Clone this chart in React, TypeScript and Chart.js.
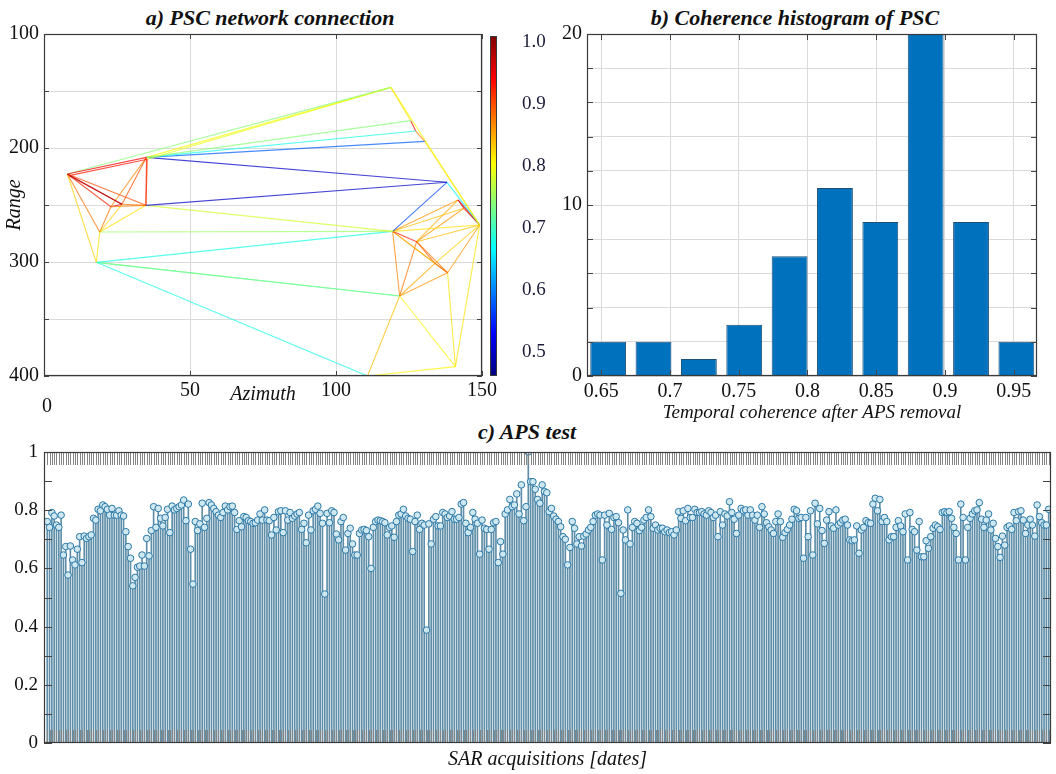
import React, { useEffect, useRef } from 'react';
import { Chart, registerables } from 'chart.js';

Chart.register(...registerables);

// ---------- Panel a: PSC network ----------
const nodeNames = ['A', 'A2', 'B', 'B2', 'C', 'D', 'E', 'F', 'G', 'H', 'I', 'I2', 'J', 'K', 'L', 'L2', 'M', 'N', 'O', 'P', 'Q', 'R', 'S', 'T'];
const nodeAzimuth = [8.0, 8.6, 35.1, 35.4, 26.7, 22.9, 34.9, 19.1, 17.9, 118.8, 125.6, 127.3, 130.4, 138.0, 141.8, 143.8, 149.2, 119.4, 127.6, 133.9, 138.2, 121.8, 140.9, 110.8];
const nodeRange = [222.8, 224.2, 208.2, 209.8, 249.4, 251.5, 250.3, 273.7, 300.3, 146.8, 176.0, 185.1, 194.2, 230.1, 245.6, 252.9, 267.5, 273.1, 282.2, 301.2, 309.4, 329.8, 391.8, 400.0];

const edgeFrom = ['A', 'A2', 'A', 'B', 'B2', 'B', 'B', 'B', 'B', 'E', 'A', 'A2', 'A', 'A', 'A', 'A', 'B', 'B', 'B', 'B2', 'C', 'D', 'D', 'C', 'D', 'E', 'F', 'E', 'F', 'G', 'G', 'G', 'H', 'H', 'I', 'I2', 'J', 'K', 'K', 'L', 'L2', 'L', 'N', 'N', 'N', 'N', 'N', 'N', 'O', 'O', 'O', 'O', 'O', 'P', 'P', 'Q', 'R', 'R', 'R', 'R', 'T', 'S', 'S', 'N', 'O', 'G'];
const edgeTo = ['B', 'B2', 'H', 'H', 'H', 'I', 'I2', 'J', 'K', 'K', 'C', 'C', 'D', 'E', 'F', 'G', 'C', 'D', 'E', 'E', 'E', 'E', 'C', 'F', 'F', 'F', 'G', 'N', 'N', 'N', 'R', 'T', 'I', 'M', 'I2', 'J', 'M', 'M', 'N', 'M', 'M', 'L2', 'L', 'L2', 'M', 'O', 'R', 'P', 'P', 'Q', 'R', 'M', 'L', 'Q', 'M', 'M', 'P', 'Q', 'S', 'T', 'S', 'M', 'Q', 'Q', 'L2', 'R'];
const edgeCoherence = [0.95, 0.93, 0.74, 0.80, 0.79, 0.74, 0.68, 0.58, 0.50, 0.50, 0.98, 0.96, 0.92, 0.90, 0.88, 0.83, 0.90, 0.87, 0.93, 0.90, 0.88, 0.87, 0.95, 0.83, 0.88, 0.82, 0.82, 0.78, 0.75, 0.68, 0.73, 0.68, 0.82, 0.80, 0.95, 0.88, 0.83, 0.66, 0.57, 0.97, 0.93, 0.95, 0.86, 0.84, 0.82, 0.93, 0.87, 0.86, 0.89, 0.88, 0.88, 0.84, 0.85, 0.90, 0.83, 0.86, 0.85, 0.86, 0.80, 0.84, 0.81, 0.82, 0.82, 0.83, 0.86, 0.72];

const azimuthTicks = [0, 50, 100, 150];
const rangeTicks = [100, 150, 200, 250, 300, 350, 400];
const colorbarMin = 0.4615;
const colorbarMax = 1.0096;
const colorbarTicks = [0.5, 0.6, 0.7, 0.8, 0.9, 1.0];

// ---------- Panel b: histogram ----------
const binCenters = [0.655, 0.688, 0.721, 0.754, 0.787, 0.820, 0.853, 0.886, 0.919, 0.952];
const binCounts = [2, 2, 1, 3, 7, 11, 9, 20, 9, 2];
const histXTicks = [0.65, 0.7, 0.75, 0.8, 0.85, 0.9, 0.95];
const histYTicks = [0, 2, 4, 6, 8, 10, 12, 14, 16, 18, 20];

// ---------- Panel c: APS test ----------
const apsCoherence = [
  0.761, 0.741, 0.792, 0.780, 0.749, 0.741, 0.783, 0.646, 0.675, 0.577,
  0.677, 0.629, 0.612, 0.666, 0.709, 0.620, 0.711, 0.703, 0.709, 0.715,
  0.772, 0.766, 0.803, 0.798, 0.818, 0.812, 0.803, 0.783, 0.806, 0.783,
  0.783, 0.798, 0.783, 0.780, 0.726, 0.675, 0.635, 0.540, 0.569, 0.604,
  0.608, 0.646, 0.608, 0.703, 0.643, 0.730, 0.812, 0.741, 0.806, 0.772,
  0.746, 0.775, 0.803, 0.723, 0.814, 0.801, 0.806, 0.812, 0.818, 0.835,
  0.764, 0.821, 0.666, 0.546, 0.761, 0.730, 0.753, 0.824, 0.741, 0.772,
  0.826, 0.818, 0.806, 0.795, 0.783, 0.775, 0.792, 0.814, 0.801,
  0.812, 0.814, 0.792, 0.734, 0.764, 0.743, 0.778, 0.775, 0.764, 0.761,
  0.755, 0.757, 0.766, 0.787, 0.766, 0.801, 0.766, 0.764, 0.715, 0.775,
  0.732, 0.795, 0.798, 0.723, 0.798, 0.766, 0.792, 0.772, 0.780, 0.787,
  0.792, 0.734, 0.755, 0.688, 0.783, 0.732, 0.798, 0.803, 0.814, 0.789,
  0.755, 0.512, 0.789, 0.757, 0.798, 0.792, 0.718, 0.698, 0.761, 0.775,
  0.663, 0.720, 0.738, 0.684, 0.646, 0.646, 0.720, 0.732, 0.734, 0.730,
  0.709, 0.600, 0.741, 0.761, 0.766,
  0.764, 0.761, 0.757, 0.715, 0.741, 0.746, 0.707, 0.761, 0.783, 0.787,
  0.803, 0.780, 0.772, 0.769, 0.658, 0.761, 0.783, 0.734, 0.755, 0.749,
  0.388, 0.753, 0.684, 0.769, 0.778, 0.746, 0.746, 0.792, 0.787, 0.775,
  0.780, 0.795, 0.769, 0.769, 0.775, 0.821, 0.826, 0.755, 0.723, 0.741,
  0.792, 0.769, 0.755, 0.649, 0.766, 0.738, 0.734, 0.666, 0.734, 0.757,
  0.761, 0.620, 0.692, 0.649, 0.787, 0.801, 0.837, 0.812, 0.818, 0.856,
  0.787, 0.887, 0.764, 0.812, 1.000, 0.898, 0.898, 0.872, 0.837, 0.824,
  0.887, 0.864, 0.860, 0.795, 0.806,
  0.780, 0.769, 0.761, 0.743, 0.709, 0.700, 0.612, 0.672, 0.761, 0.738,
  0.684, 0.709, 0.677, 0.711, 0.718, 0.732, 0.741, 0.761, 0.783, 0.787,
  0.783, 0.629, 0.783, 0.749, 0.789, 0.734, 0.775, 0.778, 0.757, 0.514,
  0.732, 0.698, 0.801, 0.684, 0.741, 0.761, 0.755, 0.730, 0.741, 0.766,
  0.775, 0.801, 0.778, 0.738, 0.749, 0.732, 0.738, 0.738, 0.726, 0.732,
  0.723, 0.726, 0.715, 0.732, 0.795, 0.772, 0.798, 0.764, 0.806, 0.775,
  0.775, 0.803, 0.792, 0.792, 0.795, 0.787, 0.783, 0.798, 0.792, 0.775,
  0.783, 0.709, 0.795, 0.749,
  0.787, 0.780, 0.829, 0.792, 0.769, 0.720, 0.783, 0.806, 0.798, 0.801,
  0.783, 0.801, 0.783, 0.766, 0.783, 0.741, 0.812, 0.787, 0.757, 0.743,
  0.732, 0.720, 0.761, 0.787, 0.761, 0.707, 0.723, 0.734, 0.749, 0.769,
  0.803, 0.798, 0.772, 0.775, 0.635, 0.775, 0.709, 0.798, 0.646, 0.824,
  0.753, 0.806, 0.730, 0.686, 0.766, 0.795, 0.746, 0.738, 0.801, 0.749,
  0.757, 0.766, 0.769, 0.749, 0.698, 0.695, 0.698, 0.746, 0.652, 0.732,
  0.741, 0.764, 0.757, 0.755, 0.821, 0.841, 0.798, 0.837, 0.761, 0.775,
  0.761, 0.698, 0.709,
  0.709, 0.741, 0.764, 0.746, 0.726, 0.787, 0.629, 0.792, 0.734, 0.726,
  0.663, 0.761, 0.640, 0.640, 0.695, 0.669, 0.709, 0.738, 0.749, 0.743,
  0.734, 0.792, 0.795, 0.792, 0.795, 0.772, 0.741, 0.720, 0.629, 0.821,
  0.775, 0.629, 0.741, 0.772, 0.787, 0.798, 0.801, 0.826, 0.769, 0.741,
  0.766, 0.787, 0.732, 0.755, 0.703, 0.675, 0.638, 0.711, 0.680, 0.741,
  0.746, 0.734, 0.792, 0.764, 0.795, 0.798, 0.766, 0.720, 0.749, 0.769,
  0.749, 0.711, 0.818, 0.778, 0.757, 0.749, 0.749, 0.803,
];
const apsYTicks = [0, 0.2, 0.4, 0.6, 0.8, 1];
const apsYMinorTicks = [0, 0.1, 0.2, 0.3, 0.4, 0.5, 0.6, 0.7, 0.8, 0.9, 1];

const SERIF = '"Liberation Serif", "Times New Roman", serif';

function jetRGB(t: number): [number, number, number] {
  const c = (v: number) => Math.max(0, Math.min(1, v));
  const tt = c(t);
  return [c(1.5 - Math.abs(4 * tt - 3)), c(1.5 - Math.abs(4 * tt - 2)), c(1.5 - Math.abs(4 * tt - 1))].map((v) => Math.round(v * 255)) as [number, number, number];
}
function jetColor(v: number, alpha = 1) {
  const [r, g, b] = jetRGB((v - colorbarMin) / (colorbarMax - colorbarMin));
  return `rgba(${r},${g},${b},${alpha})`;
}

// frame + inward ticks plugin
const framePlugin = {
  id: 'frame',
  afterDraw(chart: any, _args: any, opts: any) {
    const { ctx, chartArea } = chart;
    if (!chartArea) return;
    const { left, right, top, bottom } = chartArea;
    ctx.save();
    ctx.lineWidth = 1;
    (opts.xTicks || []).forEach((spec: any) => {
      const sc = chart.scales.x;
      ctx.strokeStyle = spec.color || '#444';
      ctx.beginPath();
      spec.values.forEach((v: number) => {
        const px = Math.round(sc.getPixelForValue(v)) + 0.5;
        if (px < left - 0.5 || px > right + 0.5) return;
        ctx.moveTo(px, top);
        ctx.lineTo(px, top + spec.len);
        ctx.moveTo(px, bottom);
        ctx.lineTo(px, bottom - spec.len);
      });
      ctx.stroke();
    });
    (opts.yTicks || []).forEach((spec: any) => {
      const sc = chart.scales.y;
      ctx.strokeStyle = spec.color || '#444';
      ctx.beginPath();
      spec.values.forEach((v: number) => {
        const py = Math.round(sc.getPixelForValue(v)) + 0.5;
        ctx.moveTo(left, py);
        ctx.lineTo(left + spec.len, py);
        ctx.moveTo(right, py);
        ctx.lineTo(right - spec.len, py);
      });
      ctx.stroke();
    });
    ctx.strokeStyle = opts.color || '#3a3a3a';
    ctx.lineWidth = opts.width || 1.2;
    ctx.strokeRect(Math.round(left) + 0.5, Math.round(top) + 0.5, Math.round(right - left) - 1, Math.round(bottom - top) - 1);
    ctx.restore();
  },
};

export default function App() {
  const netRef = useRef<HTMLCanvasElement>(null);
  const cbRef = useRef<HTMLCanvasElement>(null);
  const histRef = useRef<HTMLCanvasElement>(null);
  const apsRef = useRef<HTMLCanvasElement>(null);

  useEffect(() => {
    Chart.defaults.font.family = SERIF;
    Chart.defaults.color = '#111';
    const charts: Chart[] = [];

    // ----- a) network -----
    const idx = (n: string) => nodeNames.indexOf(n);
    const edgeSets = edgeFrom.map((f, i) => {
      const a = idx(f);
      const b = idx(edgeTo[i]);
      return {
        data: [
          { x: nodeAzimuth[a], y: nodeRange[a] },
          { x: nodeAzimuth[b], y: nodeRange[b] },
        ],
        showLine: true,
        borderColor: jetColor(edgeCoherence[i], 0.72),
        borderWidth: 1.1,
        pointRadius: 0,
        fill: false,
      };
    });
    charts.push(
      new Chart(netRef.current!, {
        type: 'scatter',
        data: { datasets: edgeSets as any },
        plugins: [framePlugin],
        options: {
          responsive: false,
          animation: false,
          layout: { padding: { left: 0, top: 34, right: 17, bottom: 0 } },
          plugins: {
            legend: { display: false },
            tooltip: { enabled: false },
            frame: {
              xTicks: [{ values: azimuthTicks, len: 5 }],
              yTicks: [{ values: rangeTicks, len: 5 }],
            },
          } as any,
          scales: {
            x: {
              type: 'linear',
              min: 0,
              max: 150,
              afterBuildTicks: (ax: any) => { ax.ticks = azimuthTicks.map((v) => ({ value: v })); },
              afterFit: (ax: any) => { ax.height = 44; },
              grid: { color: '#dadada', drawTicks: false },
              border: { display: false },
              ticks: { font: { size: 20 }, padding: 3, maxRotation: 0, autoSkip: false, callback: (v: any) => (v === 0 ? '' : String(v)) },
              title: { display: true, text: 'Azimuth', font: { size: 20, style: 'italic' }, padding: { top: 0, bottom: 13 } },
            },
            y: {
              type: 'linear',
              min: 100,
              max: 400,
              reverse: true,
              afterBuildTicks: (ax: any) => { ax.ticks = rangeTicks.map((v) => ({ value: v })); },
              afterFit: (ax: any) => { ax.width = 44; },
              grid: { color: '#dadada', drawTicks: false },
              border: { display: false },
              ticks: { font: { size: 20 }, padding: 5, autoSkip: false, callback: (v: any) => (v % 100 === 0 ? String(v) : '') },
              title: { display: true, text: 'Range', font: { size: 20, style: 'italic' }, padding: { top: 3, bottom: 0 } },
            },
          },
        } as any,
      })
    );

    // ----- colorbar -----
    charts.push(
      new Chart(cbRef.current!, {
        type: 'bar',
        data: {
          labels: ['coherence'],
          datasets: [
            {
              data: [[colorbarMin, colorbarMax]] as any,
              backgroundColor: (c: any) => {
                const ch = c.chart;
                if (!ch.chartArea) return '#888';
                const ys = ch.scales.y;
                const y0 = ys.getPixelForValue(colorbarMax);
                const y1 = ys.getPixelForValue(colorbarMin);
                const g = ch.ctx.createLinearGradient(0, y0, 0, y1);
                for (let i = 0; i <= 64; i++) {
                  const t = i / 64;
                  g.addColorStop(t, jetColor(colorbarMax - t * (colorbarMax - colorbarMin)));
                }
                return g;
              },
              borderWidth: 0,
              barPercentage: 1,
              categoryPercentage: 1,
            },
          ],
        },
        plugins: [framePlugin],
        options: {
          responsive: false,
          animation: false,
          layout: { padding: { left: 2, top: 34, right: 0, bottom: 44 } },
          plugins: { legend: { display: false }, tooltip: { enabled: false }, frame: { width: 1 } } as any,
          scales: {
            x: { display: false, offset: true },
            y: {
              position: 'right',
              min: colorbarMin,
              max: colorbarMax,
              afterBuildTicks: (ax: any) => { ax.ticks = colorbarTicks.map((v) => ({ value: v })); },
              afterFit: (ax: any) => { ax.width = 63; },
              grid: { display: false, drawTicks: false },
              border: { display: false },
              ticks: { font: { size: 19 }, padding: 25, color: '#1c1c3a', callback: (v: any) => Number(v).toFixed(1) },
            },
          },
        } as any,
      })
    );

    // ----- b) histogram -----
    charts.push(
      new Chart(histRef.current!, {
        type: 'bar',
        data: {
          datasets: [
            {
              data: binCenters.map((c, i) => ({ x: c, y: binCounts[i] })),
              backgroundColor: '#0072BD',
              borderColor: '#1d4f78',
              borderWidth: 1,
              barPercentage: 0.79,
              categoryPercentage: 1,
            },
          ],
        },
        plugins: [framePlugin],
        options: {
          responsive: false,
          animation: false,
          layout: { padding: { left: 0, top: 34, right: 19, bottom: 0 } },
          plugins: {
            legend: { display: false },
            tooltip: { enabled: false },
            frame: {
              xTicks: [{ values: histXTicks, len: 6 }],
              yTicks: [{ values: histYTicks, len: 6 }],
            },
          } as any,
          scales: {
            x: {
              type: 'linear',
              min: 0.6396,
              max: 0.967,
              offset: false,
              afterBuildTicks: (ax: any) => { ax.ticks = histXTicks.map((v) => ({ value: v })); },
              afterFit: (ax: any) => { ax.height = 54; },
              grid: { color: '#dadada', drawTicks: false, offset: false },
              border: { display: false },
              ticks: { font: { size: 20 }, padding: 4, maxRotation: 0, autoSkip: false, callback: (v: any) => String(Number(Number(v).toFixed(2))) },
              title: { display: true, text: 'Temporal coherence after APS removal', font: { size: 19, style: 'italic' }, padding: { top: 0, bottom: 6 } },
            },
            y: {
              type: 'linear',
              min: 0,
              max: 20,
              afterBuildTicks: (ax: any) => { ax.ticks = histYTicks.map((v) => ({ value: v })); },
              afterFit: (ax: any) => { ax.width = 47; },
              grid: { color: '#dadada', drawTicks: false },
              border: { display: false },
              ticks: { font: { size: 20 }, padding: 5, autoSkip: false, callback: (v: any) => (v % 10 === 0 ? String(v) : '') },
            },
          },
        } as any,
      })
    );

    // ----- c) APS test -----
    const n = apsCoherence.length;
    const acqIndex = apsCoherence.map((_, i) => i);
    charts.push(
      new Chart(apsRef.current!, {
        type: 'bar',
        data: {
          datasets: [
            {
              type: 'line',
              data: apsCoherence.map((v, i) => ({ x: i, y: v })),
              showLine: false,
              pointRadius: 3.3,
              pointBorderWidth: 1,
              pointBackgroundColor: '#cfe7ef',
              pointBorderColor: '#2878a8',
              order: 1,
            },
            {
              type: 'bar',
              data: apsCoherence.map((v, i) => ({ x: i, y: v })),
              backgroundColor: '#5f8ea8',
              borderWidth: 0,
              barThickness: 1,
              order: 2,
            },
          ] as any,
        },
        plugins: [framePlugin],
        options: {
          responsive: false,
          animation: false,
          layout: { padding: { left: 0, top: 32, right: 3, bottom: 0 } },
          plugins: {
            legend: { display: false },
            tooltip: { enabled: false },
            frame: {
              xTicks: [{ values: acqIndex, len: 13, color: '#858585' }],
              yTicks: [{ values: apsYMinorTicks, len: 8 }],
            },
          } as any,
          scales: {
            x: {
              type: 'linear',
              min: -1.4,
              max: n,
              offset: false,
              afterFit: (ax: any) => { ax.height = 31; },
              grid: { display: false, drawTicks: false, offset: false },
              border: { display: false },
              ticks: { display: false },
              title: { display: true, text: 'SAR acquisitions [dates]', font: { size: 20, style: 'italic' }, padding: { top: 0, bottom: 2 } },
            },
            y: {
              type: 'linear',
              min: 0,
              max: 1,
              afterBuildTicks: (ax: any) => { ax.ticks = apsYTicks.map((v) => ({ value: v })); },
              afterFit: (ax: any) => { ax.width = 44; },
              grid: { display: false, drawTicks: false },
              border: { display: false },
              ticks: { font: { size: 19 }, padding: 6, autoSkip: false, callback: (v: any) => String(Number(Number(v).toFixed(1))) },
            },
          },
        } as any,
      })
    );

    return () => charts.forEach((c) => c.destroy());
  }, []);

  const titleStyle: React.CSSProperties = {
    position: 'absolute',
    fontFamily: SERIF,
    fontWeight: 'bold',
    fontStyle: 'italic',
    fontSize: 22,
    lineHeight: '26px',
    textAlign: 'center',
    width: 400,
    color: '#111',
    whiteSpace: 'nowrap',
  };

  return (
    <div style={{ position: 'absolute', left: 0, top: 0, width: 1056, height: 774, background: '#fff', overflow: 'hidden' }}>
      <div style={{ ...titleStyle, left: 70, top: 5 }}>a) PSC network connection</div>
      <div style={{ ...titleStyle, left: 595, top: 5 }}>b) Coherence histogram of PSC</div>
      <div style={{ ...titleStyle, left: 327, top: 419 }}>c) APS test</div>
      <canvas ref={netRef} width={500} height={420} style={{ position: 'absolute', left: 0, top: 0 }} />
      <canvas ref={cbRef} width={72} height={420} style={{ position: 'absolute', left: 488, top: 0 }} />
      <canvas ref={histRef} width={516} height={430} style={{ position: 'absolute', left: 540, top: 0 }} />
      <canvas ref={apsRef} width={1056} height={354} style={{ position: 'absolute', left: 0, top: 420 }} />
      <div style={{ position: 'absolute', left: 42, top: 393, fontFamily: SERIF, fontSize: 20, lineHeight: '24px', color: '#111' }}>0</div>
    </div>
  );
}
